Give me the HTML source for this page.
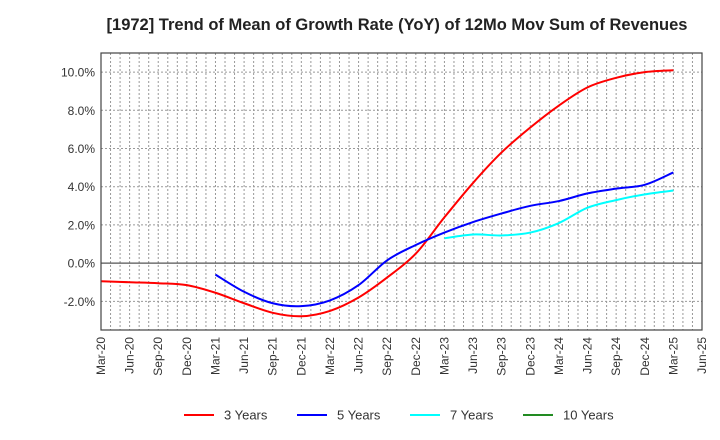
<!DOCTYPE html>
<html><head><meta charset="utf-8"><style>
body{margin:0;background:#fff;}
svg{display:block;font-family:"Liberation Sans",Arial,sans-serif;}
</style></head><body>
<svg id="chart" width="720" height="440">
<text x="397" y="30" text-anchor="middle" font-size="16.5" font-weight="bold" fill="#222">[1972]  Trend of Mean of Growth Rate (YoY) of 12Mo Mov Sum of Revenues</text>
<g id="grid"></g>
<g id="yaxis"></g>
<g id="xaxis"></g>
<g id="series"></g>
<rect x="101" y="53" width="601" height="277" fill="none" stroke="#444" stroke-width="1.2"/>
<g id="legend"></g>
</svg>
<script>
const xLabels=["Mar-20","Jun-20","Sep-20","Dec-20","Mar-21","Jun-21","Sep-21","Dec-21","Mar-22","Jun-22","Sep-22","Dec-22","Mar-23","Jun-23","Sep-23","Dec-23","Mar-24","Jun-24","Sep-24","Dec-24","Mar-25","Jun-25"];
const yTicks=[-2,0,2,4,6,8,10];
const s3=[-0.95,-1.0,-1.05,-1.15,-1.55,-2.1,-2.6,-2.78,-2.5,-1.8,-0.75,0.5,2.4,4.2,5.8,7.1,8.25,9.2,9.7,10.0,10.1];
const s5=[null,null,null,null,-0.6,-1.5,-2.1,-2.25,-1.95,-1.15,0.15,0.95,1.6,2.15,2.6,3.0,3.25,3.65,3.9,4.1,4.75];
const s7=[null,null,null,null,null,null,null,null,null,null,null,null,1.3,1.5,1.45,1.6,2.1,2.9,3.3,3.6,3.8];
const s10=[];
const seriesNames=["3 Years","5 Years","7 Years","10 Years"];
const colors=["#ff0000","#0000ff","#00ffff","#228b22"];

const L=101,R=702,T=53,B=330,yMin=-3.5,yMax=11;
const NS="http://www.w3.org/2000/svg";
function xs(i){return L+(R-L)*i/(xLabels.length-1);}
function ys(v){return B-(v-yMin)/(yMax-yMin)*(B-T);}
function mk(tag,attrs,parent){const e=document.createElementNS(NS,tag);for(const k in attrs)e.setAttribute(k,attrs[k]);parent.appendChild(e);return e;}
const grid=document.getElementById('grid'),ya=document.getElementById('yaxis'),xa=document.getElementById('xaxis'),sg=document.getElementById('series'),lg=document.getElementById('legend');
const nMonths=(xLabels.length-1)*3;
for(let m=1;m<nMonths;m++){const x=L+(R-L)*m/nMonths;
 const l=mk('line',{x1:x,x2:x,y1:T,y2:B,stroke:'#999','stroke-width':1,'stroke-dasharray':'2,2'},grid);
 
 }
yTicks.forEach(v=>{const y=ys(v);
 const l=mk('line',{x1:L,x2:R,y1:y,y2:y,stroke:v===0?'#555':'#999','stroke-width':v===0?1.3:1,'stroke-dasharray':v===0?'':'2,2'},grid);
 
 
 const t=mk('text',{x:L-6,y:y+4.5,'text-anchor':'end','font-size':12,fill:'#333'},ya);
 t.textContent=v.toFixed(1)+'%';
 
 });
xLabels.forEach((s,i)=>{const x=xs(i);
 const t=mk('text',{x:x+4,y:337,'text-anchor':'end','font-size':12,fill:'#333',transform:`rotate(-90 ${x+4} 337)`},xa);
 t.textContent=s;
 
 });
function path(data){const pts=[];data.forEach((v,i)=>{if(v!=null)pts.push([xs(i),ys(v)]);});
 if(pts.length<2)return '';let d=`M${pts[0][0]},${pts[0][1]}`;
 for(let i=0;i<pts.length-1;i++){const p0=pts[i-1]||pts[i],p1=pts[i],p2=pts[i+1],p3=pts[i+2]||p2;
  d+=` C${p1[0]+(p2[0]-p0[0])/6},${p1[1]+(p2[1]-p0[1])/6} ${p2[0]-(p3[0]-p1[0])/6},${p2[1]-(p3[1]-p1[1])/6} ${p2[0]},${p2[1]}`;}
 return d;}
[s3,s5,s7,s10].forEach((d,k)=>{const p=path(d);if(!p)return;
 const e=mk('path',{d:p,fill:'none',stroke:colors[k],'stroke-width':2},sg);
 
 });
const lx=[184,297,410,523];
seriesNames.forEach((n,k)=>{
 const l=mk('line',{x1:lx[k],x2:lx[k]+30,y1:415,y2:415,stroke:colors[k],'stroke-width':2},lg);
 
 
 const t=mk('text',{x:lx[k]+40,y:419.5,'font-size':13,fill:'#333'},lg);
 t.textContent=n;
 
 });
</script>
</body></html>
